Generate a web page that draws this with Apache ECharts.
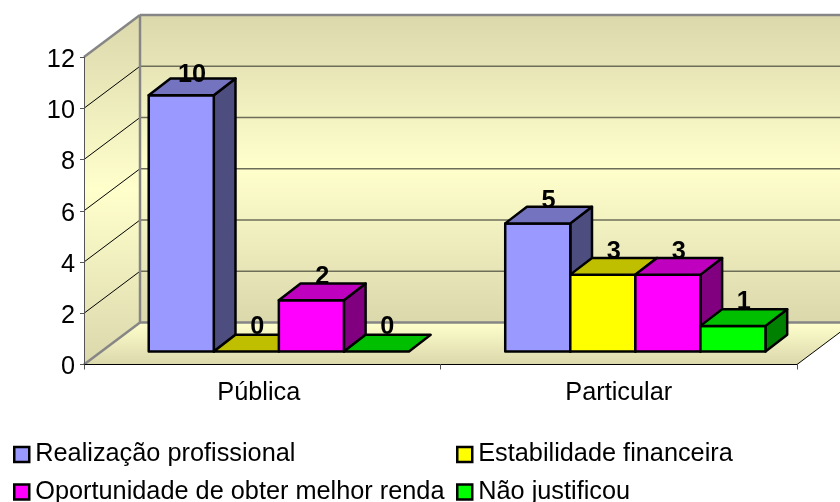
<!DOCTYPE html>
<html><head><meta charset="utf-8">
<style>html,body{margin:0;padding:0;background:#fff}#c{width:840px;height:502px}</style>
<script src="https://cdn.jsdelivr.net/npm/echarts@6/dist/echarts.min.js"></script>
</head><body><div id="c"></div>
<script>
const categories = ['Pública', 'Particular'];
const seriesNames = ['Realização profissional', 'Estabilidade financeira', 'Oportunidade de obter melhor renda', 'Não justificou'];
const realizacao = [10, 5];
const estabilidade = [0, 3];
const oportunidade = [2, 3];
const naoJustificou = [0, 1];
const seriesValues = [realizacao, estabilidade, oportunidade, naoJustificou];
const frontColors = ['#9999FF', '#FFFF00', '#FF00FF', '#00FF00'];
const topColors = ['#7373BF', '#BFBF00', '#BF00BF', '#00BF00'];
const sideColors = ['#4D4D80', '#808000', '#800080', '#008000'];
const valueTicks = [0, 2, 4, 6, 8, 10, 12];

const WALL_DX = 56, WALL_DY = -42;
const BAR_SHIFT_X = 16.6, BAR_SHIFT_Y = -13;
const BAR_DX = 21.7, BAR_DY = -16.7;
const BAR_FRACTION = 0.1825;
const font = '"Liberation Sans", Arial, Helvetica, sans-serif';
const FONT_SIZE = 25.3;

const wallGradient = () => new echarts.graphic.LinearGradient(0, 0, 0, 1, [
  { offset: 0, color: '#DBD8AC' }, { offset: 0.5, color: '#FFFFCC' }, { offset: 1, color: '#DBD8AC' }
]);
const floorGradient = () => new echarts.graphic.LinearGradient(0, 0, 0, 1, [
  { offset: 0, color: '#FFFFCC' }, { offset: 1, color: '#DBD8AC' }
]);

function renderWalls(params, api) {
  const band = api.size([1, 0])[0];
  const first = api.coord([0, 0]);
  const last = api.coord([categories.length - 1, 0]);
  const x0 = first[0] - band / 2, x1 = last[0] + band / 2;
  const y0 = first[1], yTop = api.coord([0, valueTicks[valueTicks.length - 1]])[1];
  const children = [];
  const poly = (points, fill) => ({ type: 'polygon', shape: { points }, style: { fill, stroke: null } });
  const line = (a, b, stroke, lineWidth) => ({ type: 'line', shape: { x1: a[0], y1: a[1], x2: b[0], y2: b[1] }, style: { stroke, lineWidth } });
  children.push(poly([[x0 + WALL_DX, yTop + WALL_DY], [x1 + WALL_DX, yTop + WALL_DY], [x1 + WALL_DX, y0 + WALL_DY], [x0 + WALL_DX, y0 + WALL_DY]], wallGradient()));
  children.push(poly([[x0, yTop], [x0 + WALL_DX, yTop + WALL_DY], [x0 + WALL_DX, y0 + WALL_DY], [x0, y0]], wallGradient()));
  children.push(poly([[x0, y0], [x0 + WALL_DX, y0 + WALL_DY], [x1 + WALL_DX, y0 + WALL_DY], [x1, y0]], floorGradient()));
  valueTicks.slice(1, -1).forEach(v => {
    const y = api.coord([0, v])[1];
    children.push(line([x0, y], [x0 + WALL_DX, y + WALL_DY], '#000', 1));
    children.push(line([x0 + WALL_DX, y + WALL_DY], [x1 + WALL_DX, y + WALL_DY], '#6E6E58', 1.5));
  });
  children.push(line([x1, y0], [x1 + WALL_DX, y0 + WALL_DY], '#000', 1));
  const gray = '#868686';
  children.push(line([x0, yTop], [x0 + WALL_DX, yTop + WALL_DY], gray, 2.5));
  children.push(line([x0 + WALL_DX, yTop + WALL_DY], [x1 + WALL_DX, yTop + WALL_DY], gray, 2.5));
  children.push(line([x0 + WALL_DX, yTop + WALL_DY], [x0 + WALL_DX, y0 + WALL_DY], gray, 2.5));
  children.push(line([x0, y0], [x0 + WALL_DX, y0 + WALL_DY], gray, 2.5));
  children.push(line([x0 + WALL_DX, y0 + WALL_DY], [x1 + WALL_DX, y0 + WALL_DY], gray, 2.5));
  return { type: 'group', children };
}

function makeBarRenderer(index) {
  return function (params, api) {
    const cat = api.value(0), val = api.value(1);
    const band = api.size([1, 0])[0];
    const w = band * BAR_FRACTION;
    const base = api.coord([cat, 0]);
    const top = api.coord([cat, val]);
    const xl = base[0] + BAR_SHIFT_X + (index - 2) * w, xr = xl + w;
    const yb = base[1] + BAR_SHIFT_Y, yt = top[1] + BAR_SHIFT_Y;
    const style = fill => ({ fill, stroke: '#000', lineWidth: 2.5, lineJoin: 'round' });
    const children = [];
    if (val > 0) {
      children.push({ type: 'polygon', shape: { points: [[xr, yb], [xr + BAR_DX, yb + BAR_DY], [xr + BAR_DX, yt + BAR_DY], [xr, yt]] }, style: style(sideColors[index]) });
      children.push({ type: 'polygon', shape: { points: [[xl, yb], [xr, yb], [xr, yt], [xl, yt]] }, style: style(frontColors[index]) });
    }
    children.push({ type: 'polygon', shape: { points: [[xl, yt], [xr, yt], [xr + BAR_DX, yt + BAR_DY], [xl + BAR_DX, yt + BAR_DY]] }, style: style(topColors[index]) });
    children.push({ type: 'text', z2: 50, style: { x: xl + (w + BAR_DX) / 2, y: yt - (24 - 0.4 * val), text: String(val), fill: '#000', font: 'bold ' + FONT_SIZE + 'px ' + font, align: 'center', verticalAlign: 'middle' } });
    return { type: 'group', children };
  };
}

const chart = echarts.init(document.getElementById('c'), null, { renderer: 'canvas' });
const series = [{
  type: 'custom', name: '__walls', coordinateSystem: 'cartesian2d', clip: false, silent: true, z: 1,
  renderItem: renderWalls, data: [[0, 0]], encode: { x: 0, y: 1 }
}];
seriesNames.forEach((name, i) => series.push({
  type: 'custom', name, coordinateSystem: 'cartesian2d', clip: false, z: 3 + i,
  renderItem: makeBarRenderer(i), encode: { x: 0, y: 1 },
  itemStyle: { color: frontColors[i], borderColor: '#000', borderWidth: 2 },
  data: categories.map((c, k) => [k, seriesValues[i][k]])
}));
const legendAt = (i, left, top) => ({
  data: [{ name: seriesNames[i], icon: 'rect', itemStyle: { color: frontColors[i], borderColor: '#000', borderWidth: 2.5 } }],
  left, top, itemWidth: 15, itemHeight: 15, itemGap: 6, padding: 0, selectedMode: false,
  textStyle: { fontFamily: font, fontSize: FONT_SIZE, color: '#000', padding: [0, 0, 0, 1] }
});
chart.setOption({
  animation: false,
  backgroundColor: '#fff',
  grid: { left: 84, right: 43, top: 57, bottom: 137.5, containLabel: false },
  legend: [legendAt(0, 13, 442), legendAt(1, 456, 442), legendAt(2, 13, 479.5), legendAt(3, 456, 479.5)],
  xAxis: { type: 'category', data: categories, z: 10,
    axisLine: { lineStyle: { color: '#000', width: 1 } },
    axisTick: { show: true, alignWithLabel: false, length: 5, lineStyle: { color: '#555' } },
    axisLabel: { fontFamily: font, fontSize: FONT_SIZE, color: '#000', margin: 16,
      formatter: (v, i) => i === 0 ? '{first|' + v + '}' : '{other|' + v + '}',
      rich: {
        first: { fontFamily: font, fontSize: FONT_SIZE, color: '#000', padding: [0, 7, 0, 0] },
        other: { fontFamily: font, fontSize: FONT_SIZE, color: '#000' }
      } },
    splitLine: { show: false } },
  yAxis: { type: 'value', min: 0, max: 12, interval: 2, z: 10,
    axisLine: { show: true, lineStyle: { color: '#555', width: 1 } },
    axisTick: { show: true, length: 4, lineStyle: { color: '#555' } },
    axisLabel: { color: '#000', margin: 9,
      formatter: v => '{t|' + v + '}',
      rich: { t: { fontFamily: font, fontSize: FONT_SIZE, color: '#000', padding: [6, 0, 0, 0] } } },
    splitLine: { show: false } },
  series
});
</script></body></html>
